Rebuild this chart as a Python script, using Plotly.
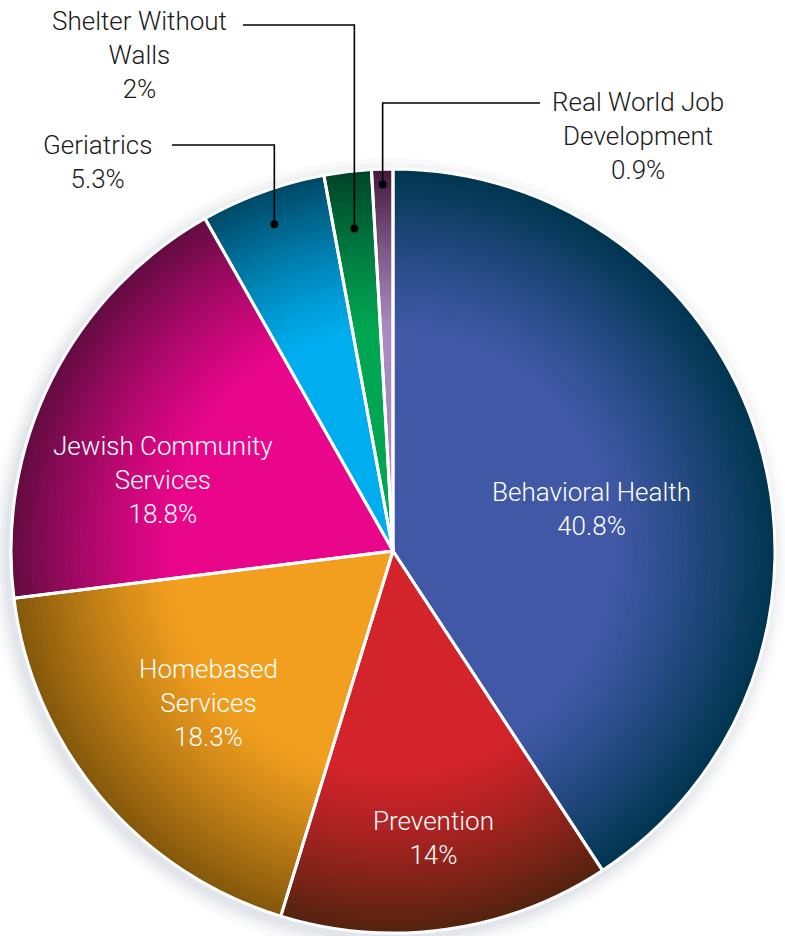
import math
import plotly.graph_objects as go

# ---------------- data ----------------
categories = ["Behavioral Health", "Prevention", "Homebased Services",
              "Jewish Community Services", "Geriatrics",
              "Shelter Without Walls", "Real World Job Development"]
values = [40.8, 14, 18.3, 18.8, 5.3, 2, 0.9]
display_names = ["Behavioral Health", "Prevention", "Homebased<br>Services",
                 "Jewish Community<br>Services", "Geriatrics",
                 "Shelter Without<br>Walls", "Real World Job<br>Development"]

# ---------------- style ----------------
base_colors = ["#4058a6", "#d3232b", "#f29f1f", "#ea068b", "#00aeef", "#00a651", "#a78bbf"]
rim_colors = ["#003650", "#55230f", "#85580c", "#640c42", "#004a68", "#00452a", "#461a3e"]
FONT = "Roboto, Liberation Sans, sans-serif"
FONT_SIZE = 26
W, H = 785, 936
cx, cy, R = 393, 551, 382

# inside label placement (radius fraction, angle nudge in degrees)
inside_style = {0: (0.53, 4.6), 1: (0.76, 0.0), 2: (0.625, 0.5), 3: (0.63, -9.6)}
# outside label placement (pixel layout of callouts)
outside_style = {
    4: dict(dot_r=0.91, elbow_y=145, end_x=172, text_x=97, text_y=162),
    5: dict(dot_r=0.85, elbow_y=25, end_x=243, text_x=139, text_y=55),
    6: dict(dot_r=0.96, elbow_y=103, end_x=540, text_x=638, text_y=136),
}


def hex2rgb(h):
    h = h.lstrip("#")
    return tuple(int(h[i:i + 2], 16) for i in (0, 2, 4))


def blend(c1, c2, t):
    a, b = hex2rgb(c1), hex2rgb(c2)
    return "rgb(%d,%d,%d)" % tuple(round(a[i] + (b[i] - a[i]) * t) for i in range(3))


def dom(r):
    return dict(x=[(cx - r) / W, (cx + r) / W], y=[1 - (cy + r) / H, 1 - (cy - r) / H])


def px(x, y):
    return x / W, 1 - y / H


fig = go.Figure()

# radial shading built from stacked pies (outer = darkest)
N = 34
f_in = 0.58
for k in range(N):
    f = 1.0 - (1.0 - f_in) * k / (N - 1)
    t = ((f - f_in) / (1.0 - f_in)) ** 1.2
    cols = [blend(b, r, t) for b, r in zip(base_colors, rim_colors)]
    fig.add_trace(go.Pie(
        labels=categories, values=values, sort=False, direction="clockwise",
        rotation=0, domain=dom(R * f), marker=dict(colors=cols, line=dict(width=0)),
        textinfo="none", hoverinfo="skip", showlegend=False))

# top pie: white separators
fig.add_trace(go.Pie(
    labels=categories, values=values, sort=False, direction="clockwise",
    rotation=0, domain=dom(R),
    marker=dict(colors=["rgba(0,0,0,0)"] * len(values), line=dict(color="white", width=3)),
    textinfo="none", hovertemplate="%{label}: %{value}%<extra></extra>", showlegend=False))

total = sum(values)
cum = 0.0
mids = []
for v in values:
    mids.append(360.0 * (cum + v / 2) / total)
    cum += v

annotations = []
shapes = []

# soft shadow around the pie
for dr, op in [(16, 0.04), (11, 0.05), (7, 0.06), (3, 0.07)]:
    scx, scy = cx - 4, cy + 5
    x0, y1 = px(scx - R - dr, scy - R - dr)
    x1, y0 = px(scx + R + dr, scy + R + dr)
    shapes.append(dict(type="circle", xref="paper", yref="paper", x0=x0, x1=x1, y0=y0, y1=y1,
                       fillcolor="rgba(120,130,160,%.2f)" % op, line=dict(width=0), layer="below"))

for i, (name, v) in enumerate(zip(display_names, values)):
    txt = "%s<br>%s%%" % (name, ("%g" % v))
    if i in inside_style:
        rf, dang = inside_style[i]
        th = math.radians(mids[i] + dang)
        x, y = cx + rf * R * math.sin(th), cy - rf * R * math.cos(th)
        ax, ay = px(x, y)
        annotations.append(dict(x=ax, y=ay, xref="paper", yref="paper", text=txt, showarrow=False,
                                xanchor="center", yanchor="middle", align="center",
                                font=dict(family=FONT, size=FONT_SIZE, color="white", weight=300)))
    else:
        s = outside_style[i]
        th = math.radians(mids[i])
        dx, dy = cx + s["dot_r"] * R * math.sin(th), cy - s["dot_r"] * R * math.cos(th)
        p1 = px(dx, dy)
        p2 = px(dx, s["elbow_y"])
        p3 = px(s["end_x"], s["elbow_y"])
        shapes.append(dict(type="path", xref="paper", yref="paper",
                           path="M %f,%f L %f,%f L %f,%f" % (p1[0], p1[1], p2[0], p2[1], p3[0], p3[1]),
                           line=dict(color="black", width=1.6), layer="above"))
        rr = 4
        c0 = px(dx - rr, dy + rr)
        c1 = px(dx + rr, dy - rr)
        shapes.append(dict(type="circle", xref="paper", yref="paper", x0=c0[0], y0=c0[1],
                           x1=c1[0], y1=c1[1], fillcolor="black", line=dict(width=0), layer="above"))
        tx, ty = px(s["text_x"], s["text_y"])
        annotations.append(dict(x=tx, y=ty, xref="paper", yref="paper", text=txt, showarrow=False,
                                xanchor="center", yanchor="middle", align="center",
                                font=dict(family=FONT, size=FONT_SIZE, color="#1a1a1a", weight=300)))

fig.update_layout(
    width=W, height=H, margin=dict(l=0, r=0, t=0, b=0),
    paper_bgcolor="white", plot_bgcolor="white",
    annotations=annotations, shapes=shapes, showlegend=False,
)

fig.write_html("out.html", config={"displayModeBar": False},
               post_script="document.body.style.margin='0';document.body.style.overflow='hidden';")
